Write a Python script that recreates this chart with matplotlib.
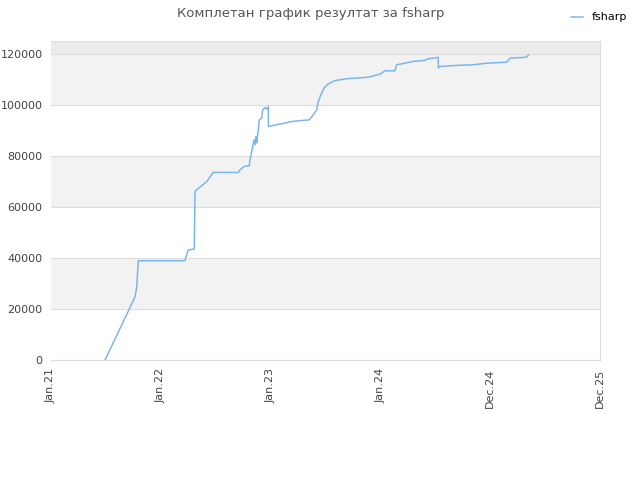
import matplotlib
matplotlib.use("Agg")
import matplotlib.pyplot as plt

# x in "tick units" (0 = Jan.21 ... 5 = Dec.25), y = score
xs = [0.492, 0.765, 0.781, 0.795, 1.220, 1.241, 1.250, 1.305, 1.311, 1.327,
      1.418, 1.478, 1.706, 1.721, 1.758, 1.806, 1.812, 1.828, 1.849, 1.858,
      1.867, 1.873, 1.888, 1.897, 1.919, 1.928, 1.949, 1.964, 1.979, 1.980,
      2.201, 2.352, 2.389, 2.420, 2.434, 2.465, 2.486, 2.525, 2.587, 2.693,
      2.890, 2.996, 3.042, 3.133, 3.148, 3.224, 3.300, 3.406, 3.422, 3.527,
      3.528, 3.543, 3.679, 3.846, 3.968, 4.150, 4.180, 4.326, 4.347]
ys = [0, 24700, 28700, 38900, 38900, 42000, 43100, 43500, 65800, 66700,
      69900, 73500, 73500, 74500, 75800, 76100, 78400, 81700, 86300, 84300,
      87600, 85100, 90200, 94100, 94800, 98000, 98900, 98300, 99300, 91500,
      93500, 94100, 96100, 98000, 101300, 104600, 106500, 108200, 109500, 110200,
      110800, 112000, 113300, 113300, 115700, 116300, 117000, 117400, 117900, 118600,
      114400, 115000, 115400, 115700, 116300, 116700, 118300, 118600, 119400]

tick_pos = [0, 1, 2, 3, 4, 5]
tick_labels = ["Jan.21", "Jan.22", "Jan.23", "Jan.24", "Dec.24", "Dec.25"]
y_ticks = [0, 20000, 40000, 60000, 80000, 100000, 120000]

fig = plt.figure(figsize=(6.4, 4.8), dpi=100)
ax = fig.add_axes([0.0797, 0.25, 0.8578, 0.6646])

# alternating bands
for i in range(len(y_ticks) - 1):
    if i % 2 == 1:
        ax.axhspan(y_ticks[i], y_ticks[i + 1], color="#f2f2f2", zorder=0, lw=0)
ax.axhspan(120000, 125000, color="#ebebeb", zorder=0, lw=0)
for y in y_ticks:
    ax.axhline(y, color="#dddddd", lw=0.8, zorder=1)

ax.plot(xs, ys, color="#7cb5ec", lw=1.1, zorder=3, label="fsharp")

ax.set_xlim(0, 5)
ax.set_ylim(0, 125000)
ax.set_xticks(tick_pos)
ax.set_xticklabels(tick_labels, rotation=90, fontsize=8, color="#444444")
ax.set_yticks(y_ticks)
ax.set_yticklabels([str(v) for v in y_ticks], fontsize=8, color="#444444")
ax.tick_params(length=0, pad=6)

for s in ["left", "top"]:
    ax.spines[s].set_visible(False)
for s in ["bottom", "right"]:
    ax.spines[s].set_color("#dddddd")
    ax.spines[s].set_linewidth(0.8)
ax.axhline(125000, color="#dddddd", lw=0.8, zorder=1)

fig.text(0.485, 0.972, "Комплетан график резултат за fsharp", ha="center", va="center",
         fontsize=9.5, color="#555555")
fig.legend(loc="upper right", bbox_to_anchor=(0.995, 0.995), frameon=False,
           fontsize=8, handlelength=1.0, handletextpad=0.8)

fig.savefig("out.png", dpi=100)
